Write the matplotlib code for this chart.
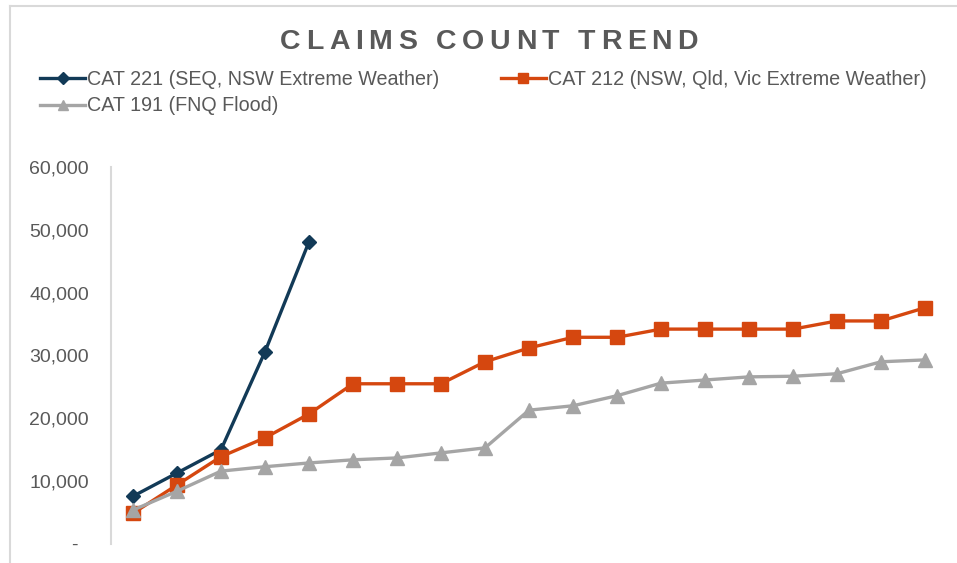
import matplotlib.pyplot as plt
from matplotlib.lines import Line2D
from matplotlib.ticker import FuncFormatter

plt.rcParams["font.family"] = ["Liberation Sans", "DejaVu Sans"]

# data
cat221 = [7600, 11300, 15000, 30600, 48100]
cat212 = [4900, 9400, 13900, 16900, 20700, 25500, 25500, 25500, 29000, 31200,
          32900, 32900, 34200, 34200, 34200, 34200, 35500, 35500, 37600]
cat191 = [5400, 8400, 11600, 12300, 12900, 13400, 13700, 14500, 15300, 21300,
          22000, 23600, 25600, 26100, 26600, 26700, 27100, 29000, 29300]
labels = ["CAT 221 (SEQ, NSW Extreme Weather)",
          "CAT 212 (NSW, Qld, Vic Extreme Weather)",
          "CAT 191 (FNQ Flood)"]
yticks = [0, 10000, 20000, 30000, 40000, 50000, 60000]

navy = "#123a57"
orange = "#d5470f"
grey = "#a5a5a5"
txt = "#595959"

W, H = 957, 563
fig = plt.figure(figsize=(W / 100, H / 100), dpi=100)

def fx(px):
    return px / W

def fy(py):
    return 1 - py / H

# outer chart frame (cropped on right / bottom)
fig.add_artist(Line2D([fx(10), 1], [fy(6), fy(6)], color="#d9d9d9", lw=1.5))
fig.add_artist(Line2D([fx(10), fx(10)], [fy(6), 0], color="#d9d9d9", lw=1.5))

ax = fig.add_axes([fx(111), fy(544), fx(947) - fx(111), fy(167) - fy(544)])

h1, = ax.plot(range(len(cat221)), cat221, color=navy, lw=2.4, marker="D",
              markersize=7.5, zorder=3)
h2, = ax.plot(range(len(cat212)), cat212, color=orange, lw=2.4, marker="s",
              markersize=10, zorder=4)
h3, = ax.plot(range(len(cat191)), cat191, color=grey, lw=2.4, marker="^",
              markersize=10, zorder=5)

ax.set_xlim(-0.5, len(cat212) - 0.5)
ax.set_ylim(0, 60000)
ax.set_yticks(yticks)
ax.yaxis.set_major_formatter(FuncFormatter(lambda v, p: "-  " if v == 0 else f"{v:,.0f}"))
ax.set_xticks([])
ax.tick_params(axis="y", length=0, pad=16, labelsize=14, labelcolor=txt)
for s in ["top", "right", "bottom"]:
    ax.spines[s].set_visible(False)
ax.spines["left"].set_color("#d9d9d9")
ax.spines["left"].set_linewidth(1.5)

# legend: row-major order (221, 212 / 191)
leg = ax.legend([h1, h3, h2], [labels[0], labels[2], labels[1]], ncol=2,
                loc="upper left", bbox_to_anchor=(fx(40), fy(70)),
                bbox_transform=fig.transFigure, frameon=False, fontsize=14.2,
                handlelength=2.3, handletextpad=0.1, columnspacing=3.1,
                labelspacing=0.38, borderpad=0, borderaxespad=0, markerscale=0.75)
for t in leg.get_texts():
    t.set_color(txt)

# letter-spaced title
title = "CLAIMS COUNT TREND"
fs = 20.5
ls = 5.5
renderer = fig.canvas.get_renderer()
widths = []
for ch in title:
    if ch == " ":
        widths.append(0.278 * fs * 100 / 72)
    else:
        t = fig.text(0, 0, ch, fontsize=fs, fontweight="bold")
        widths.append(t.get_window_extent(renderer).width)
        t.remove()
total = sum(widths) + ls * (len(title) - 1)
x = 489 - total / 2
for ch, w in zip(title, widths):
    if ch != " ":
        fig.text(fx(x), fy(42), ch, fontsize=fs, fontweight="bold", color=txt,
                 ha="left", va="center")
    x += w + ls

fig.savefig("out.png", dpi=100)
